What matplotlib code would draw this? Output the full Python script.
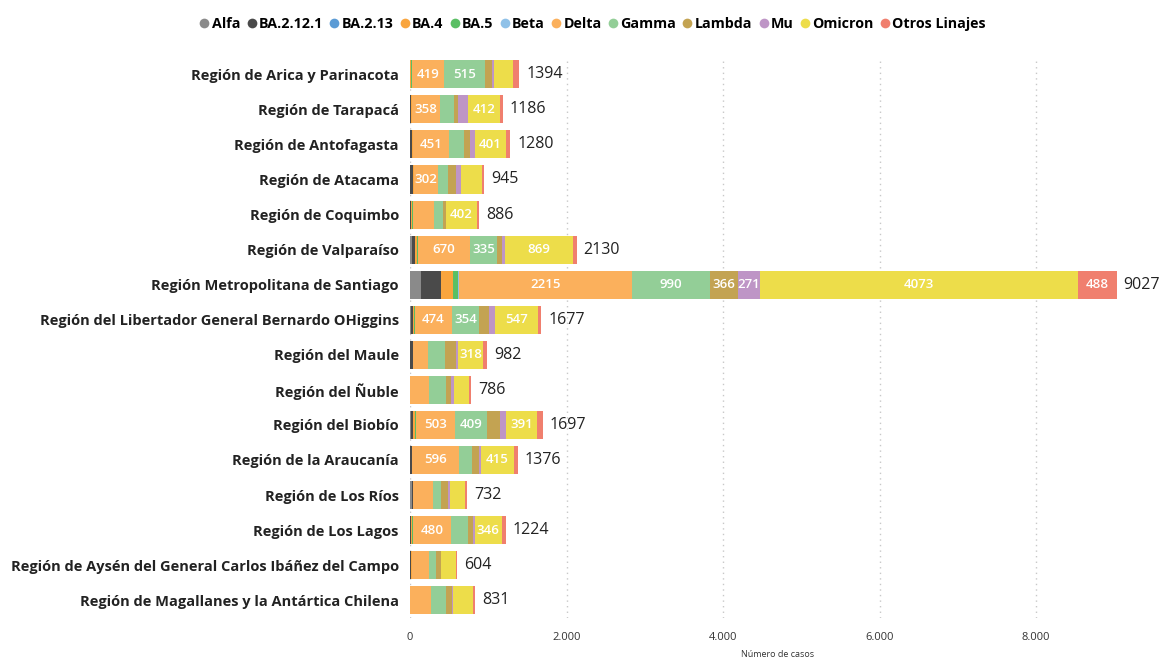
import matplotlib
matplotlib.use("Agg")
import matplotlib.pyplot as plt
from matplotlib.lines import Line2D
import numpy as np

regions = [
    "Región de Arica y Parinacota",
    "Región de Tarapacá",
    "Región de Antofagasta",
    "Región de Atacama",
    "Región de Coquimbo",
    "Región de Valparaíso",
    "Región Metropolitana de Santiago",
    "Región del Libertador General Bernardo OHiggins",
    "Región del Maule",
    "Región del Ñuble",
    "Región del Biobío",
    "Región de la Araucanía",
    "Región de Los Ríos",
    "Región de Los Lagos",
    "Región de Aysén del General Carlos Ibáñez del Campo",
    "Región de Magallanes y la Antártica Chilena",
]

lineages = ["Alfa", "BA.2.12.1", "BA.2.13", "BA.4", "BA.5", "Beta", "Delta",
            "Gamma", "Lambda", "Mu", "Omicron", "Otros Linajes"]

colors = ["#8a8a8a", "#4a4a4a", "#5b9bd5", "#f9a53e", "#5abf64", "#8fc1e8",
          "#fbb05c", "#93ce97", "#c3a352", "#be95c6", "#eddd4a", "#f07f6e"]

alfa      = [0,   0,   0,   0,   0,   20,  140, 10,  0,   0,   10,  0,   22,  0,   5,   0]
ba_2_12_1 = [6,   15,  28,  40,  12,  45,  260, 25,  38,  6,   30,  20,  18,  15,  8,   0]
ba_2_13   = [0,   0,   0,   0,   0,   0,   0,   0,   0,   0,   0,   0,   0,   0,   0,   0]
ba_4      = [5,   5,   8,   10,  10,  25,  155, 12,  0,   0,   20,  12,  0,   15,  8,   5]
ba_5      = [9,   0,   8,   5,   15,  13,  65,  12,  0,   0,   14,  0,   0,   10,  11,  0]
beta      = [0,   0,   0,   0,   0,   0,   4,   0,   0,   0,   0,   0,   0,   0,   0,   0]
delta     = [419, 358, 451, 302, 268, 670, 2215, 474, 192, 243, 503, 596, 256, 480, 205, 268]
gamma     = [515, 179, 192, 128, 115, 335, 990, 354, 217, 217, 409, 166, 102, 217, 90,  192]
lambda_   = [90,  51,  77,  102, 38,  64,  366, 128, 141, 64,  166, 90,  90,  64,  64,  77]
mu        = [30,  128, 64,  64,  0,   38,  271, 77,  26,  38,  77,  26,  26,  26,  0,   8]
omicron   = [245, 412, 401, 268, 402, 869, 4073, 547, 318, 192, 391, 415, 192, 346, 200, 255]
otros     = [75,  38,  51,  26,  26,  51,  488, 38,  50,  26,  77,  51,  26,  51,  13,  26]
totals    = [1394, 1186, 1280, 945, 886, 2130, 9027, 1677, 982, 786, 1697, 1376, 732, 1224, 604, 831]

series = [alfa, ba_2_12_1, ba_2_13, ba_4, ba_5, beta, delta, gamma, lambda_, mu, omicron, otros]

plt.rcParams['font.family'] = ['Open Sans', 'DejaVu Sans']

fig = plt.figure(figsize=(11.62, 6.6), dpi=100)
ax = fig.add_axes([0.3528, 0.064, 0.986 - 0.3528, 0.914 - 0.064])

y = np.arange(len(regions))
left = np.zeros(len(regions))
for name, vals, col in zip(lineages, series, colors):
    vals = np.array(vals, dtype=float)
    ax.barh(y, vals, left=left, height=0.8, color=col, edgecolor='none', zorder=3)
    for i, v in enumerate(vals):
        if v >= 270:
            ax.text(left[i] + v / 2, y[i], f"{int(v)}", ha='center', va='center',
                    color='white', fontsize=9.5, fontweight='semibold', zorder=4)
    left += vals

for i, t in enumerate(totals):
    ax.text(left[i] + 90, y[i], f"{t}", ha='left', va='center', color='#222222',
            fontsize=11.5, zorder=4)

ax.set_ylim(len(regions) - 0.5, -0.5)
ax.set_xlim(0, 9400)
ax.set_yticks(y)
ax.set_yticklabels(regions, fontsize=10.5, fontweight='bold', color='#222222')
ax.set_xticks([0, 2000, 4000, 6000, 8000])
ax.set_xticklabels(["0", "2.000", "4.000", "6.000", "8.000"], fontsize=8, color='#333333')
ax.tick_params(axis='both', length=0)
ax.tick_params(axis='y', pad=8)
ax.tick_params(axis='x', pad=10)
ax.set_xlabel("Número de casos", fontsize=6.5, color='#333333', labelpad=5)
for s in ax.spines.values():
    s.set_visible(False)
ax.grid(axis='x', color='#c8c8c8', linestyle=(0, (1, 3)), linewidth=1, zorder=0)

handles = [Line2D([0], [0], marker='o', linestyle='none', markersize=7,
                  markerfacecolor=c, markeredgecolor='none') for c in colors]
fig.legend(handles, lineages, loc='upper center', bbox_to_anchor=(0.509, 0.993),
           ncol=len(lineages), frameon=False, handletextpad=0.0, columnspacing=0.3,
           prop={'size': 10.3, 'weight': 'bold'}, handlelength=1.0)

fig.savefig("out.png", dpi=100)
